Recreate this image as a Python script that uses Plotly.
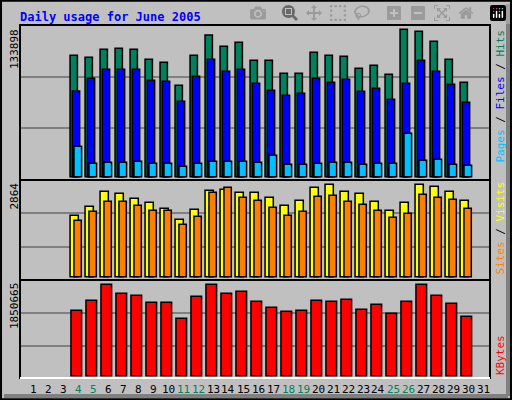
import plotly.graph_objects as go

days = list(range(4, 31))
hits = [110267, 108449, 115719, 116628, 115719, 106631, 103905, 83003, 110267, 128745,
        118446, 122081, 105722, 105722, 93908, 93908, 112993, 110267, 109358, 98452,
        101179, 92999, 133898, 132080, 122990, 106631, 85729]
files = [77853, 89364, 97543, 97543, 97543, 87547, 86638, 68462, 91182, 106631,
         95726, 97543, 84820, 78459, 73915, 75733, 89364, 85729, 88456, 77550,
         80276, 70280, 84820, 105722, 95726, 83912, 67553]
pages = [27567, 12117, 13026, 13026, 13935, 12117, 12117, 9391, 12117, 13935,
         13935, 13935, 13026, 19388, 11208, 11208, 12117, 13026, 13026, 11208,
         12117, 12117, 39381, 14844, 15752, 11208, 10300]
visits = [1902, 2182, 2647, 2585, 2430, 2306, 2119, 1778, 2088, 2678,
          2709, 2616, 2616, 2461, 2213, 2368, 2771, 2864, 2647, 2585,
          2337, 2057, 2306, 2864, 2802, 2647, 2368]
sites = [1747, 2026, 2337, 2337, 2213, 2057, 2057, 1623, 1871, 2616,
         2771, 2461, 2368, 2151, 1902, 2026, 2492, 2523, 2337, 2244,
         2057, 1840, 1964, 2554, 2461, 2399, 2119]
kbytes = [1323833, 1526461, 1850665, 1668300, 1627774, 1485935, 1485935, 1161731, 1607512, 1850665,
          1668300, 1708825, 1506198, 1384621, 1303570, 1323833, 1526461, 1506198, 1546723, 1344096,
          1445410, 1263045, 1506198, 1850665, 1627774, 1465672, 1202257]
weekend = [4, 5, 11, 12, 18, 19, 25, 26]

W, H = 512, 400
def py(p):
    return 1 - p / H

# panel pixel geometry: (top, bottom, baseline, max-bar-top, gridlines)
panels = [
    (25, 180, 176.7, 29.3, [76.7, 127.7], max(hits)),
    (180, 280, 276.7, 184.3, [213.3, 246.7], max(visits)),
    (280, 378, 375.7, 284.3, [313.3, 346.0], max(kbytes)),
]

fig = go.Figure()
line = dict(color="black", width=1.5)

def bar(y, color, off, width, axis):
    fig.add_trace(go.Bar(x=days, y=y, offset=off, width=width, marker=dict(color=color, line=line),
                         xaxis="x", yaxis=axis, showlegend=False))

bar(hits, "#00805c", -0.53, 0.49, "y")
bar(files, "#0000ff", -0.38, 0.49, "y")
bar(pages, "#00c0ff", -0.27, 0.51, "y")
bar(visits, "#ffff00", -0.53, 0.55, "y2")
bar(sites, "#ff8000", -0.27, 0.49, "y2")
bar(kbytes, "#ff0000", -0.47, 0.71, "y3")

layout = dict(width=W, height=H, margin=dict(l=0, r=0, t=0, b=0),
              paper_bgcolor="#c0c0c0", plot_bgcolor="#c0c0c0", barmode="overlay",
              xaxis=dict(range=[2 / 15, 472 / 15], domain=[20 / W, 490 / W], showticklabels=False,
                         showgrid=False, zeroline=False, anchor="y3"))
for i, (T, B, b, t, grid, mx) in enumerate(panels):
    k = mx / (b - t)
    name = "yaxis" if i == 0 else f"yaxis{i + 1}"
    layout[name] = dict(domain=[py(B), py(T)], range=[-(B - b) * k, (b - T) * k],
                        tickvals=[(b - g) * k for g in grid], showticklabels=False,
                        gridcolor="#808080", gridwidth=1.5, zeroline=False, anchor="x")
fig.update_layout(**layout)

shapes = [dict(type="rect", xref="paper", yref="paper", x0=0.002, x1=0.998, y0=0.002, y1=0.998,
               line=dict(color="black", width=2)),
          dict(type="line", xref="paper", yref="paper", x0=508 / W, x1=508 / W, y0=py(396), y1=py(4),
               line=dict(color="#808080", width=4)),
          dict(type="line", xref="paper", yref="paper", x0=4 / W, x1=508 / W, y0=py(396), y1=py(396),
               line=dict(color="#808080", width=4))]
for T, B, *_ in panels:
    shapes.append(dict(type="rect", xref="paper", yref="paper", x0=20 / W, x1=490 / W, y0=py(B), y1=py(T),
                       line=dict(color="black", width=2)))
    shapes.append(dict(type="line", xref="paper", yref="paper", x0=20 / W, x1=490 / W, y0=py(B), y1=py(B),
                       line=dict(color="white", width=2)))
fig.update_layout(shapes=shapes)

mono = "DejaVu Sans Mono"
ann = [dict(text="<b>Daily usage for June 2005</b>", x=18 / W, y=py(8), xanchor="left", yanchor="top",
            font=dict(family=mono, size=12, color="#0000ff"))]
for T, mx in [(27, max(hits)), (181, max(visits)), (281, max(kbytes))]:
    ann.append(dict(text=str(mx), x=14 / W, y=py(T), xanchor="center", yanchor="top", textangle=-90,
                    font=dict(family=mono, size=11, color="black")))
ann.append(dict(text="<span style='color:#00c0ff'>Pages</span> / <span style='color:#0000ff'>Files</span>"
                     " / <span style='color:#00805c'>Hits</span>",
                x=500 / W, y=py(28), xanchor="center", yanchor="top", textangle=-90,
                font=dict(family=mono, size=11, color="black")))
ann.append(dict(text="<span style='color:#ff8000'>Sites</span> / <span style='color:#ffff00'>Visits</span>",
                x=500 / W, y=py(277), xanchor="center", yanchor="bottom", textangle=-90,
                font=dict(family=mono, size=11, color="black")))
ann.append(dict(text="<span style='color:#ff0000'>KBytes</span>",
                x=500 / W, y=py(377), xanchor="center", yanchor="bottom", textangle=-90,
                font=dict(family=mono, size=11, color="black")))
for d in range(1, 32):
    ann.append(dict(text=str(d), x=d, xref="x", y=py(389), yanchor="middle", xanchor="center",
                    font=dict(family=mono, size=11, color="#00805c" if d in weekend else "black")))
for a in ann:
    a.setdefault("xref", "paper")
    a["yref"] = "paper"
    a["showarrow"] = False
fig.update_layout(annotations=ann)

fig.write_html("out.html")

# drop the default page margin so the figure sits at the window's corner
with open("out.html") as f:
    page = f.read()
page = page.replace("<body>", "<body style='margin:0;overflow:hidden'>", 1)
with open("out.html", "w") as f:
    f.write(page)
